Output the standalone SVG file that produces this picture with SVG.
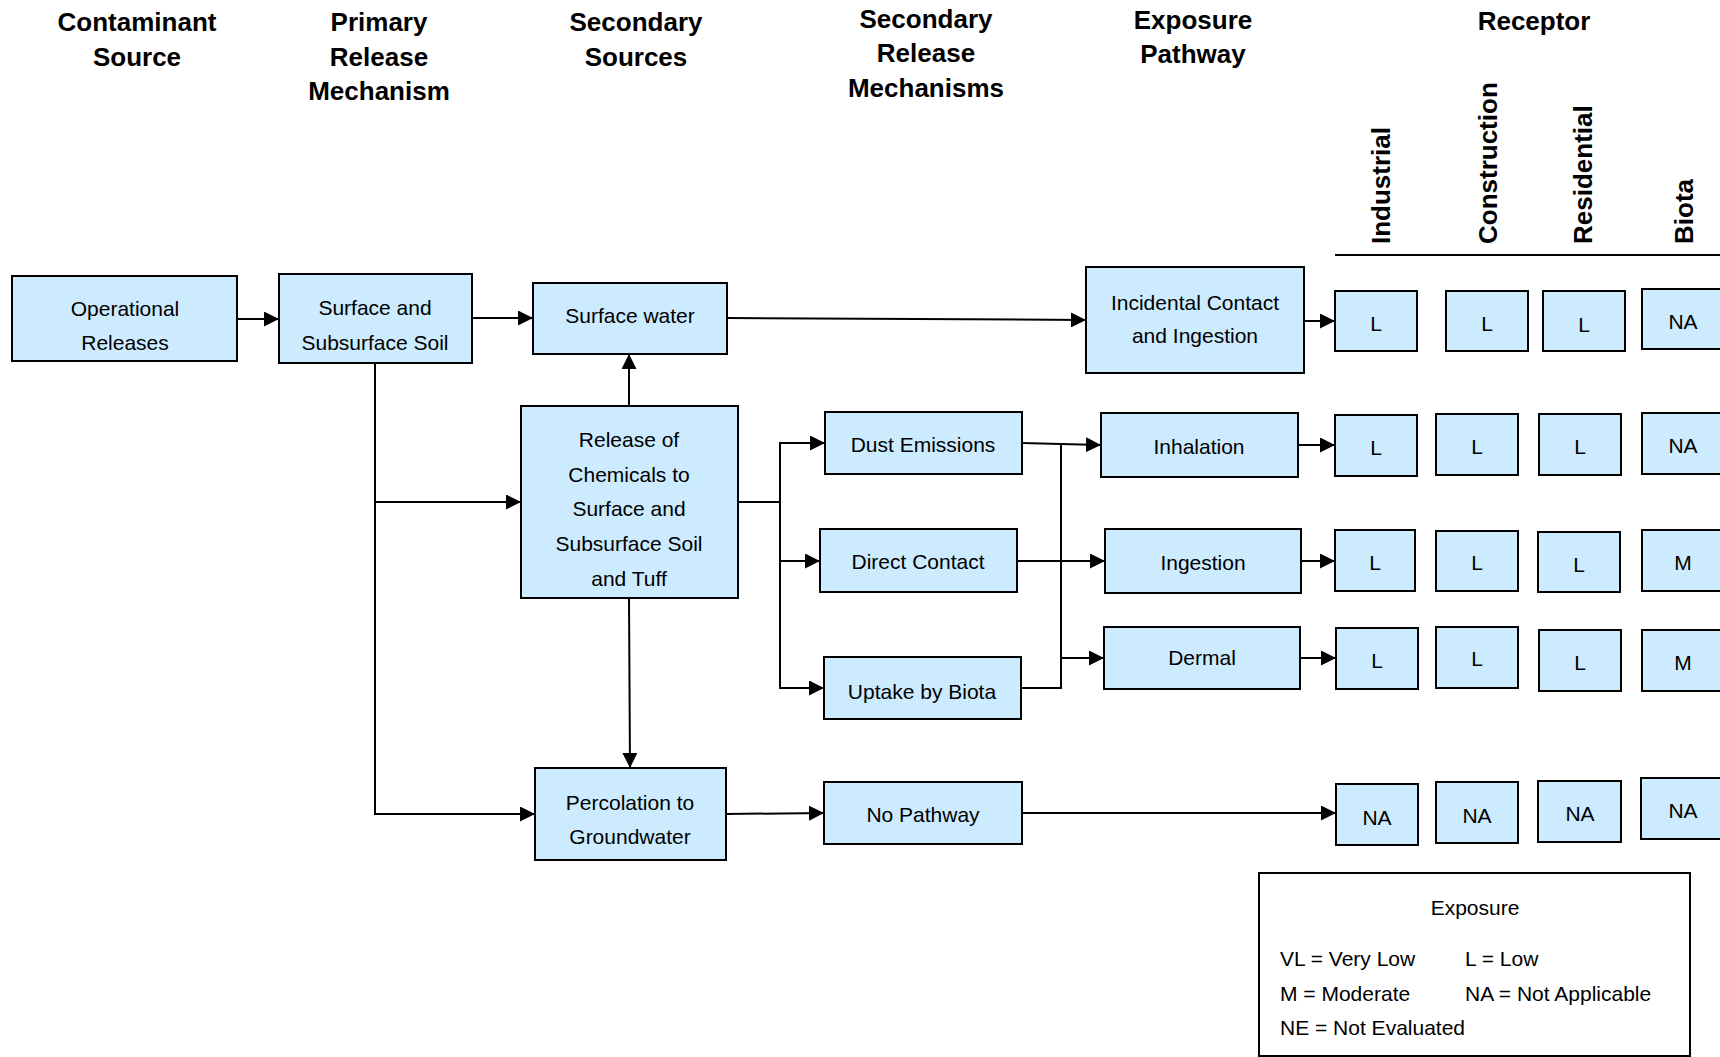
<svg xmlns="http://www.w3.org/2000/svg" width="1720" height="1057" viewBox="0 0 1720 1057">
<style>
.hd{font-family:"Liberation Sans",Arial,sans-serif;font-weight:bold;font-size:26px;fill:#000;text-anchor:middle}
.rc{font-family:"Liberation Sans",Arial,sans-serif;font-weight:bold;font-size:26px;fill:#000}
.nd rect{fill:#CCEBFF;stroke:#000;stroke-width:2}
.nd text{font-family:"Liberation Sans",Arial,sans-serif;font-size:21px;fill:#000;text-anchor:middle}
.rv rect{fill:#CCEBFF;stroke:#000;stroke-width:2}
.rv text{font-family:"Liberation Sans",Arial,sans-serif;font-size:21px;fill:#000;text-anchor:middle}
.cn line,.cn polyline{stroke:#000;stroke-width:2;fill:none}
.lg text{font-family:"Liberation Sans",Arial,sans-serif;font-size:21px;fill:#000}
</style>
<defs>
<marker id="ah" markerUnits="userSpaceOnUse" markerWidth="15" markerHeight="15" refX="15" refY="7.5" orient="auto">
<path d="M0,0 L15,7.5 L0,15 z" fill="#000"/>
</marker>
</defs>
<rect width="1720" height="1057" fill="#fff"/>

<g id="headers">
<text class="hd" x="137" y="31">Contaminant</text>
<text class="hd" x="137" y="66">Source</text>
<text class="hd" x="379" y="31">Primary</text>
<text class="hd" x="379" y="66">Release</text>
<text class="hd" x="379" y="100">Mechanism</text>
<text class="hd" x="636" y="31">Secondary</text>
<text class="hd" x="636" y="66">Sources</text>
<text class="hd" x="926" y="28">Secondary</text>
<text class="hd" x="926" y="62">Release</text>
<text class="hd" x="926" y="97">Mechanisms</text>
<text class="hd" x="1193" y="29">Exposure</text>
<text class="hd" x="1193" y="63">Pathway</text>
<text class="hd" x="1534" y="30">Receptor</text>
<text class="rc" transform="translate(1390,244) rotate(-90)">Industrial</text>
<text class="rc" transform="translate(1497,244) rotate(-90)">Construction</text>
<text class="rc" transform="translate(1592,244) rotate(-90)">Residential</text>
<text class="rc" transform="translate(1693,244) rotate(-90)">Biota</text>
<line x1="1335" y1="255" x2="1720" y2="255" stroke="#000" stroke-width="2"/>
</g>

<g id="connectors" class="cn">
<line x1="237" y1="319" x2="279" y2="319" marker-end="url(#ah)"/>
<line x1="472" y1="318" x2="533" y2="318" marker-end="url(#ah)"/>
<line x1="727" y1="318" x2="1086" y2="320" marker-end="url(#ah)"/>
<polyline points="375,363 375,814 535,814" marker-end="url(#ah)"/>
<line x1="375" y1="502" x2="521" y2="502" marker-end="url(#ah)"/>
<line x1="629" y1="406" x2="629" y2="354" marker-end="url(#ah)"/>
<line x1="629" y1="598" x2="630" y2="768" marker-end="url(#ah)"/>
<line x1="738" y1="502" x2="780" y2="502"/>
<line x1="780" y1="443" x2="780" y2="688"/>
<line x1="779" y1="443" x2="825" y2="443" marker-end="url(#ah)"/>
<line x1="779" y1="561" x2="820" y2="561" marker-end="url(#ah)"/>
<line x1="779" y1="688" x2="824" y2="688" marker-end="url(#ah)"/>
<line x1="726" y1="814" x2="824" y2="813" marker-end="url(#ah)"/>
<polyline points="1022,443 1061,444 1101,445" marker-end="url(#ah)"/>
<line x1="1017" y1="561" x2="1105" y2="561" marker-end="url(#ah)"/>
<line x1="1021" y1="688" x2="1062" y2="688"/>
<line x1="1061" y1="443" x2="1061" y2="689"/>
<line x1="1060" y1="658" x2="1104" y2="658" marker-end="url(#ah)"/>
<line x1="1304" y1="321" x2="1335" y2="321" marker-end="url(#ah)"/>
<line x1="1298" y1="445" x2="1335" y2="445" marker-end="url(#ah)"/>
<line x1="1301" y1="561" x2="1335" y2="561" marker-end="url(#ah)"/>
<line x1="1300" y1="658" x2="1336" y2="658" marker-end="url(#ah)"/>
<line x1="1022" y1="813" x2="1336" y2="813" marker-end="url(#ah)"/>
</g>

<g id="n-operational" class="nd"><rect x="12" y="276" width="225" height="85"/><text x="125" y="316">Operational</text><text x="125" y="350">Releases</text></g>
<g id="n-soil" class="nd"><rect x="279" y="274" width="193" height="89"/><text x="375" y="315">Surface and</text><text x="375" y="350">Subsurface Soil</text></g>
<g id="n-surfacewater" class="nd"><rect x="533" y="283" width="194" height="71"/><text x="630" y="323">Surface water</text></g>
<g id="n-release" class="nd"><rect x="521" y="406" width="217" height="192"/><text x="629" y="447">Release of</text><text x="629" y="482">Chemicals to</text><text x="629" y="516">Surface and</text><text x="629" y="551">Subsurface Soil</text><text x="629" y="586">and Tuff</text></g>
<g id="n-percolation" class="nd"><rect x="535" y="768" width="191" height="92"/><text x="630" y="810">Percolation to</text><text x="630" y="844">Groundwater</text></g>
<g id="n-dust" class="nd"><rect x="825" y="412" width="197" height="62"/><text x="923" y="452">Dust Emissions</text></g>
<g id="n-direct" class="nd"><rect x="820" y="529" width="197" height="63"/><text x="918" y="569">Direct Contact</text></g>
<g id="n-uptake" class="nd"><rect x="824" y="657" width="197" height="62"/><text x="922" y="699">Uptake by Biota</text></g>
<g id="n-nopathway" class="nd"><rect x="824" y="782" width="198" height="62"/><text x="923" y="822">No Pathway</text></g>
<g id="n-incidental" class="nd"><rect x="1086" y="267" width="218" height="106"/><text x="1195" y="310">Incidental Contact</text><text x="1195" y="343">and Ingestion</text></g>
<g id="n-inhalation" class="nd"><rect x="1101" y="413" width="197" height="64"/><text x="1199" y="454">Inhalation</text></g>
<g id="n-ingestion" class="nd"><rect x="1105" y="529" width="196" height="64"/><text x="1203" y="570">Ingestion</text></g>
<g id="n-dermal" class="nd"><rect x="1104" y="627" width="196" height="62"/><text x="1202" y="665">Dermal</text></g>

<g id="r1-industrial" class="rv"><rect x="1335" y="291" width="82" height="60"/><text x="1376" y="331">L</text></g>
<g id="r1-construction" class="rv"><rect x="1446" y="291" width="82" height="60"/><text x="1487" y="331">L</text></g>
<g id="r1-residential" class="rv"><rect x="1543" y="291" width="82" height="60"/><text x="1584" y="332">L</text></g>
<g id="r1-biota" class="rv"><rect x="1642" y="289" width="82" height="60"/><text x="1683" y="329">NA</text></g>

<g id="r2-industrial" class="rv"><rect x="1335" y="415" width="82" height="61"/><text x="1376" y="455">L</text></g>
<g id="r2-construction" class="rv"><rect x="1436" y="414" width="82" height="61"/><text x="1477" y="454">L</text></g>
<g id="r2-residential" class="rv"><rect x="1539" y="414" width="82" height="61"/><text x="1580" y="454">L</text></g>
<g id="r2-biota" class="rv"><rect x="1642" y="413" width="82" height="61"/><text x="1683" y="453">NA</text></g>

<g id="r3-industrial" class="rv"><rect x="1335" y="530" width="80" height="61"/><text x="1375" y="570">L</text></g>
<g id="r3-construction" class="rv"><rect x="1436" y="531" width="82" height="60"/><text x="1477" y="570">L</text></g>
<g id="r3-residential" class="rv"><rect x="1538" y="532" width="82" height="60"/><text x="1579" y="572">L</text></g>
<g id="r3-biota" class="rv"><rect x="1642" y="530" width="82" height="61"/><text x="1683" y="570">M</text></g>

<g id="r4-industrial" class="rv"><rect x="1336" y="628" width="82" height="61"/><text x="1377" y="668">L</text></g>
<g id="r4-construction" class="rv"><rect x="1436" y="627" width="82" height="61"/><text x="1477" y="666">L</text></g>
<g id="r4-residential" class="rv"><rect x="1539" y="630" width="82" height="61"/><text x="1580" y="670">L</text></g>
<g id="r4-biota" class="rv"><rect x="1642" y="630" width="82" height="61"/><text x="1683" y="670">M</text></g>

<g id="r5-industrial" class="rv"><rect x="1336" y="784" width="82" height="61"/><text x="1377" y="825">NA</text></g>
<g id="r5-construction" class="rv"><rect x="1436" y="782" width="82" height="61"/><text x="1477" y="823">NA</text></g>
<g id="r5-residential" class="rv"><rect x="1538" y="781" width="83" height="61"/><text x="1580" y="821">NA</text></g>
<g id="r5-biota" class="rv"><rect x="1641" y="778" width="82" height="61"/><text x="1683" y="818">NA</text></g>

<g id="legend" class="lg">
<rect x="1259" y="873" width="431" height="183" fill="#fff" stroke="#000" stroke-width="2"/>
<text x="1475" y="915" text-anchor="middle">Exposure</text>
<text x="1280" y="966">VL = Very Low</text>
<text x="1465" y="966">L = Low</text>
<text x="1280" y="1001">M = Moderate</text>
<text x="1465" y="1001">NA = Not Applicable</text>
<text x="1280" y="1035">NE = Not Evaluated</text>
</g>
</svg>
